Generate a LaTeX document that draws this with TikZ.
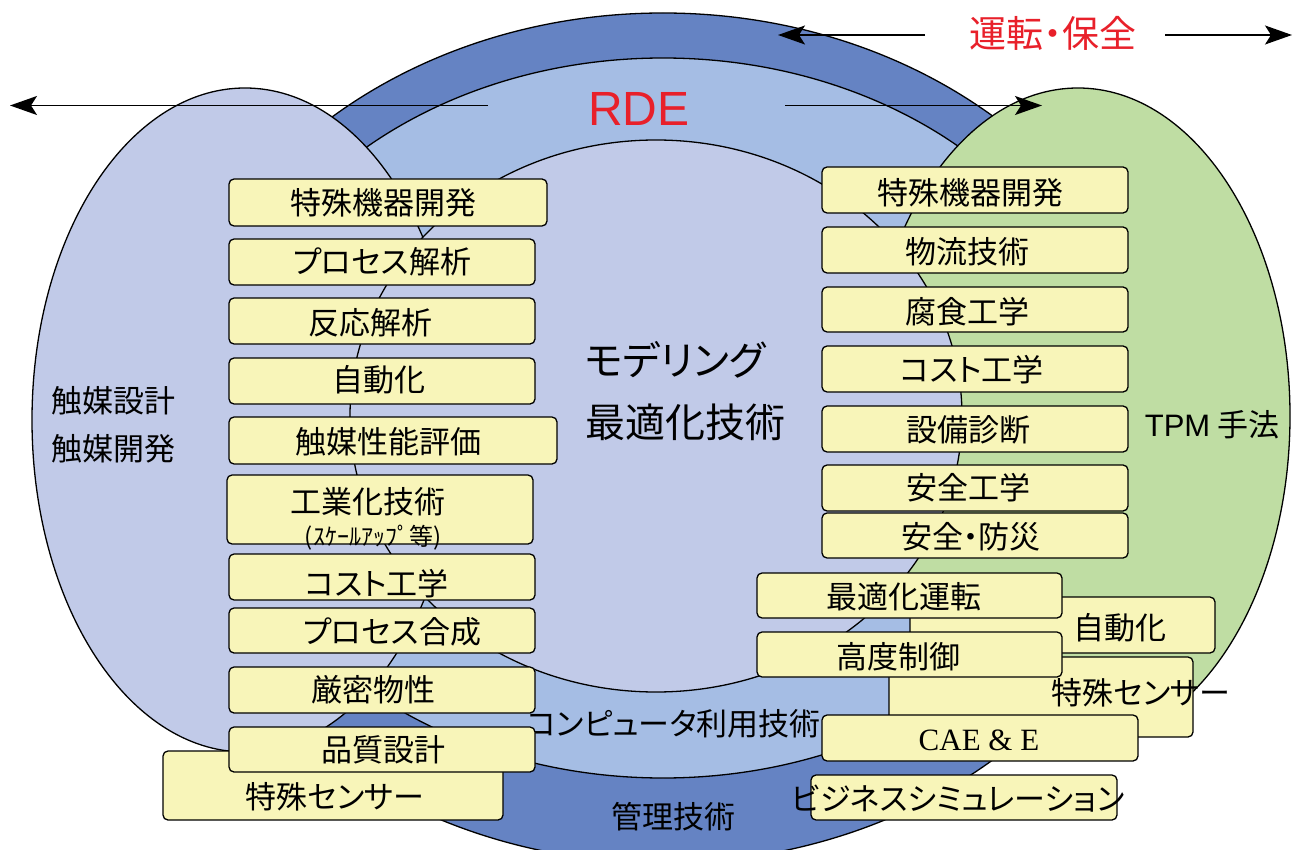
\documentclass[tikz,border=0pt]{standalone}
\usepackage{fontspec}
\setmainfont[RawFeature=+palt]{Noto Sans CJK JP}
\newfontfamily\latsans{Liberation Sans}
\newfontfamily\latserif{Liberation Serif}
\usetikzlibrary{arrows.meta}
\definecolor{ringdark}{HTML}{6583C3}
\definecolor{ringlight}{HTML}{A5BDE4}
\definecolor{lav}{HTML}{C1CAE8}
\definecolor{grn}{HTML}{BFDDA3}
\definecolor{boxy}{HTML}{F8F5B9}
\definecolor{redt}{HTML}{E8202A}
\begin{document}
\begin{tikzpicture}[x=1pt,y=-1pt]
\tikzset{
  blob/.style={draw=black,line width=1.3pt},
  box/.style={rectangle,draw=black,line width=1.3pt,fill=boxy,rounded corners=5pt,inner sep=0pt},
  txt/.style={inner sep=0pt,font=\fontsize{31}{36}\selectfont},
  arr/.style={line width=1.4pt,-{Stealth[length=27pt,width=19pt,inset=6pt]}},
  lw/.style={minimum width=306pt,minimum height=46pt}
}
\useasboundingbox (0,0) rectangle (1295,850);
\clip (0,0) rectangle (1295,850);
% rings and ellipses
\filldraw[blob,fill=ringdark] (663,438) ellipse [x radius=505pt, y radius=425pt];
\filldraw[blob,fill=ringlight] (663,418) ellipse [x radius=450pt, y radius=360pt];
\filldraw[blob,fill=lav] (245,420) ellipse [x radius=213pt, y radius=332pt];
\filldraw[blob,fill=grn] (1078,416) ellipse [x radius=212pt, y radius=328pt];
\filldraw[blob,fill=lav] (656,416) ellipse [x radius=306pt, y radius=276pt];
% arrows
\coordinate (a1s) at (488,105.5); \coordinate (a1e) at (10,105.5);
\coordinate (a2s) at (785,105.5); \coordinate (a2e) at (1042,105.5);
\coordinate (a3s) at (925,35); \coordinate (a3e) at (778,35);
\coordinate (a4s) at (1165,35); \coordinate (a4e) at (1292,35);
\draw[arr] (a1s) -- (a1e);
\draw[arr] (a2s) -- (a2e);
\draw[arr] (a3s) -- (a3e);
\draw[arr] (a4s) -- (a4e);
% titles
\node[inner sep=0pt,text=redt,font=\latsans\fontsize{48}{50}\selectfont] (rde) at (639,109) {RDE};
\node[inner sep=0pt,text=redt,font=\fontsize{37}{40}\selectfont] (unten) at (1053,33) {運転・保全};
\node[inner sep=0pt,font=\fontsize{40}{44}\selectfont,anchor=west] (model) at (585,360) {モデリング};
\node[inner sep=0pt,font=\fontsize{40}{44}\selectfont,anchor=west] (saiteki) at (585,422) {最適化技術};
\node[txt] (shokubai1) at (113,401) {触媒設計};
\node[txt] (shokubai2) at (113,449) {触媒開発};
\node[inner sep=0pt,font=\fontsize{31}{36}\selectfont] (tpm) at (1212,425) {{\latsans TPM} 手法};
\node[inner sep=0pt,font=\fontsize{31}{36}\selectfont] (comp) at (674,724) {コンピュータ利用技術};
\node[txt] (kanri) at (673,817) {管理技術};
% left column
\node[box,minimum width=340pt,minimum height=69pt] (L11) at (333,785.5) {};
\node[txt] at ([shift={(2,11.5)}]L11.center) {特殊センサー};
\node[box,minimum width=318pt,minimum height=47pt] (L1) at (388,202.5) {};
\node[txt] at ([shift={(-5,0.5)}]L1.center) {特殊機器開発};
\node[box,lw] (L2) at (382,262) {};
\node[txt] at (L2.center) {プロセス解析};
\node[box,lw] (L3) at (382,321) {};
\node[txt] at ([shift={(-12,2)}]L3.center) {反応解析};
\node[box,lw] (L4) at (382,381) {};
\node[txt] at ([shift={(-3,-1)}]L4.center) {自動化};
\node[box,minimum width=328pt,minimum height=47pt] (L5) at (393,440.5) {};
\node[txt] at ([shift={(-5,1.5)}]L5.center) {触媒性能評価};
\node[box,minimum width=306pt,minimum height=69pt] (L6) at (380,509.5) {};
\node[txt] at ([shift={(-12,-7.5)}]L6.center) {工業化技術};
\node[inner sep=0pt,font=\fontsize{24}{26}\selectfont] at ([shift={(-7,28.5)}]L6.center) {(ｽｹｰﾙｱｯﾌﾟ等)};
\node[box,lw] (L7) at (382,577) {};
\node[txt] at ([shift={(-5,7)}]L7.center) {コスト工学};
\node[box,minimum width=306pt,minimum height=45pt] (L8) at (382,630.5) {};
\node[txt] at ([shift={(10,1.5)}]L8.center) {プロセス合成};
\node[box,lw] (L9) at (382,690) {};
\node[txt] at ([shift={(-9,0)}]L9.center) {厳密物性};
\node[box,minimum width=306pt,minimum height=45pt] (L10) at (382,749.5) {};
\node[txt] at ([shift={(1,0.5)}]L10.center) {品質設計};
% right column
\node[box,lw] (R1) at (975,190) {};
\node[txt] at ([shift={(-5,3)}]R1.center) {特殊機器開発};
\node[box,lw] (R2) at (975,250) {};
\node[txt] at ([shift={(-8,2)}]R2.center) {物流技術};
\node[box,minimum width=306pt,minimum height=45pt] (R3) at (975,309.5) {};
\node[txt] at ([shift={(-8,2.5)}]R3.center) {腐食工学};
\node[box,lw] (R4) at (975,369) {};
\node[txt] at ([shift={(-3,1)}]R4.center) {コスト工学};
\node[box,lw] (R5) at (975,429) {};
\node[txt] at ([shift={(-7,1)}]R5.center) {設備診断};
\node[box,lw] (R6) at (975,488) {};
\node[txt] at ([shift={(-7,0)}]R6.center) {安全工学};
\node[box,minimum width=306pt,minimum height=45pt] (R7) at (975,535.5) {};
\node[txt] at ([shift={(-4,1.5)}]R7.center) {安全・防災};
% bottom right cluster
\node[box,minimum width=305pt,minimum height=56pt] (B2) at (1062.5,625) {};
\node[txt] at ([shift={(57.5,3)}]B2.center) {自動化};
\node[box,minimum width=304pt,minimum height=80pt] (B4) at (1041,697) {};
\node[box,minimum width=305pt,minimum height=45pt] (B1) at (909.5,595.5) {};
\node[txt] at ([shift={(-5.5,1.5)}]B1.center) {最適化運転};
\node[box,minimum width=305pt,minimum height=45pt] (B3) at (909.5,654.5) {};
\node[txt] at ([shift={(-11.5,2.5)}]B3.center) {高度制御};
\node[txt] at ([shift={(100,-4)}]B4.center) {特殊センサー};
\node[box,minimum width=316pt,minimum height=46pt] (B5) at (980,738) {};
\node[inner sep=0pt,font=\latserif\fontsize{31}{36}\selectfont] at ([shift={(-1,2)}]B5.center) {CAE \& E};
\node[box,minimum width=306pt,minimum height=45pt] (B6) at (964,797.5) {};
\node[txt] at ([shift={(-6,1.5)}]B6.center) {ビジネスシミュレーション};
\end{tikzpicture}
\end{document}
